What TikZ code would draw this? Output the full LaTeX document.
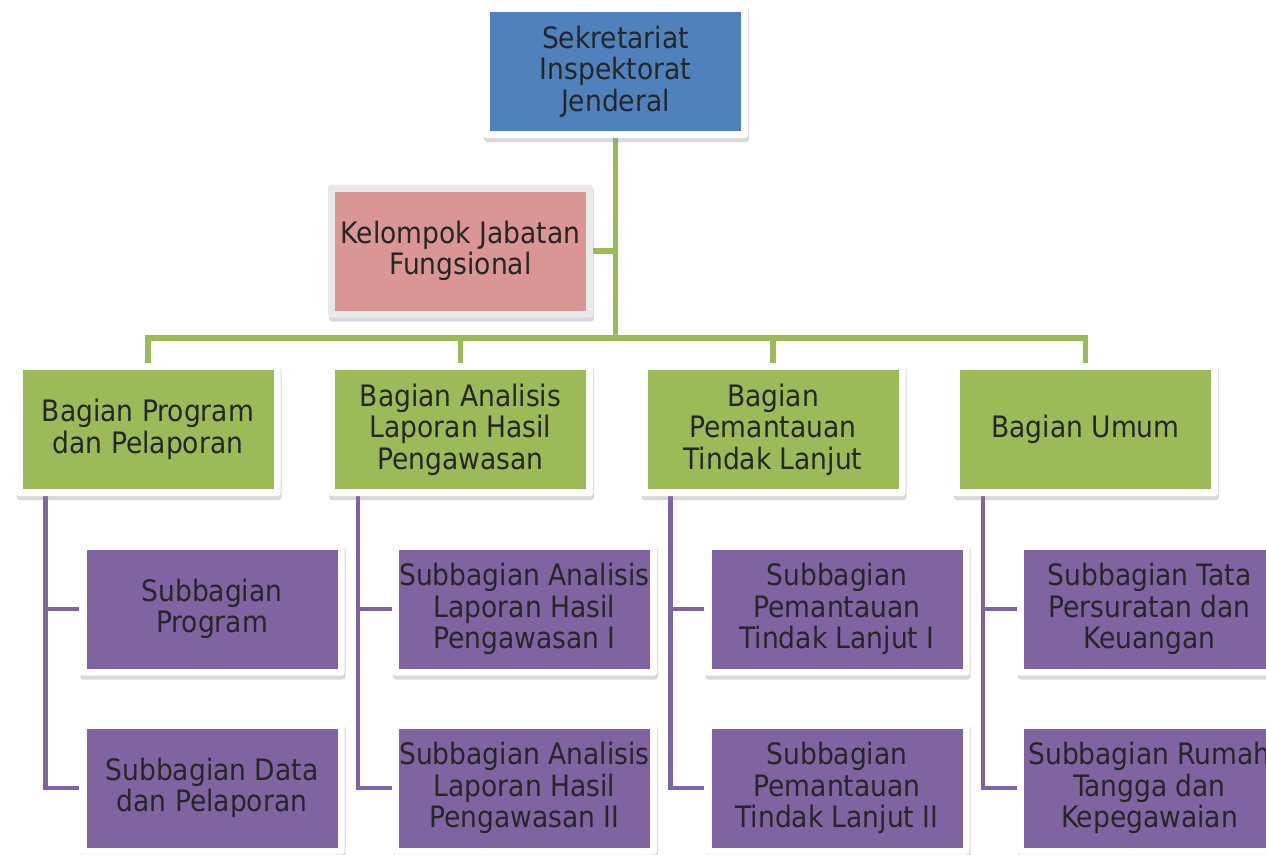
\documentclass[tikz,border=0pt]{standalone}
\usepackage{fontspec}
\setmainfont{DejaVu Sans Condensed}
\usetikzlibrary{shadows, backgrounds}
\definecolor{sekblue}{HTML}{4F81BD}
\definecolor{kelpink}{HTML}{D99694}
\definecolor{baggreen}{HTML}{9BBB59}
\definecolor{subpurple}{HTML}{8064A2}
\definecolor{framegray}{HTML}{E8E9EB}
\definecolor{textdark}{HTML}{262626}
\tikzset{
    unitbox/.style={
        rectangle,
        rounded corners=3pt,
        fill=white,
        minimum width=265pt,
        minimum height=133pt,
        align=center,
        text=textdark,
        font=\fontsize{29.5}{31.5}\selectfont,
        drop shadow={shadow xshift=1pt, shadow yshift=-4pt, opacity=0.3},
        path picture={\fill[#1, sharp corners]
            ([shift={(7pt,7pt)}]path picture bounding box.south west) rectangle
            ([shift={(-7pt,-7pt)}]path picture bounding box.north east);}
    }
}
\tikzstyle{topbox} = [unitbox=sekblue]
\tikzstyle{kelbox} = [unitbox=kelpink, fill=framegray]
\tikzstyle{bagian} = [unitbox=baggreen]
\tikzstyle{subbagian} = [unitbox=subpurple]
\tikzstyle{greenline} = [draw=baggreen, line width=5.5pt]
\tikzstyle{purpleline} = [draw=subpurple, line width=4.5pt]

\begin{document}
\begin{tikzpicture}[x=1pt, y=1pt, node distance=312.5pt]
\useasboundingbox (0,0) rectangle (1266,-854);

\node (sek) [topbox] at (615.5,-71.5)
{Sekretariat\\Inspektorat\\Jenderal};

\node (kel) [kelbox] at (460.5,-251)
{Kelompok Jabatan\\Fungsional};

\node (bp) [bagian] at (148,-429.5)
{Bagian Program\\dan Pelaporan};

\node (ba) [bagian, right of=bp]
{Bagian Analisis\\Laporan Hasil\\Pengawasan};

\node (bt) [bagian, right of=ba]
{Bagian\\Pemantauan\\Tindak Lanjut};

\node (bu) [bagian, right of=bt]
{Bagian Umum};

% subbagian
\node (sprog) [subbagian, below of=bp, node distance=179.5pt, xshift=64pt]
{Subbagian\\Program};
\node (sdata) [subbagian, below of=sprog, node distance=179pt]
{Subbagian Data\\dan Pelaporan};

\node (salh1) [subbagian, below of=ba, node distance=179.5pt, xshift=64pt]
{Subbagian Analisis\\Laporan Hasil\\Pengawasan I};
\node (salh2) [subbagian, below of=salh1, node distance=179pt]
{Subbagian Analisis\\Laporan Hasil\\Pengawasan II};

\node (sptl1) [subbagian, below of=bt, node distance=179.5pt, xshift=64pt]
{Subbagian\\Pemantauan\\Tindak Lanjut I};
\node (sptl2) [subbagian, below of=sptl1, node distance=179pt]
{Subbagian\\Pemantauan\\Tindak Lanjut II};

\node (stata) [subbagian, below of=bu, node distance=179.5pt, xshift=64pt]
{Subbagian Tata\\Persuratan dan\\Keuangan};
\node (srt) [subbagian, below of=stata, node distance=179pt]
{Subbagian Rumah\\Tangga dan\\Kepegawaian};

\coordinate (bar) at (615.5,-338);
\coordinate (spA) at ([xshift=30pt]bp.south west);
\coordinate (spB) at ([xshift=30pt]ba.south west);
\coordinate (spC) at ([xshift=30pt]bt.south west);
\coordinate (spD) at ([xshift=30pt]bu.south west);

\begin{scope}[on background layer]
\draw [greenline] (sek.south) -- (sek.south |- bar);
\draw [greenline] (kel.east) -- (kel.east -| sek.south);
\draw [greenline] (bp.north) -- (bp.north |- bar) -- (bu.north |- bar) -- (bu.north);
\draw [greenline] (ba.north |- bar) -- (ba.north);
\draw [greenline] (bt.north |- bar) -- (bt.north);

\draw [purpleline] (spA) |- (sdata.west);
\draw [purpleline] (spA |- sprog.west) -- (sprog.west);
\draw [purpleline] (spB) |- (salh2.west);
\draw [purpleline] (spB |- salh1.west) -- (salh1.west);
\draw [purpleline] (spC) |- (sptl2.west);
\draw [purpleline] (spC |- sptl1.west) -- (sptl1.west);
\draw [purpleline] (spD) |- (srt.west);
\draw [purpleline] (spD |- stata.west) -- (stata.west);
\end{scope}

\end{tikzpicture}
\end{document}
